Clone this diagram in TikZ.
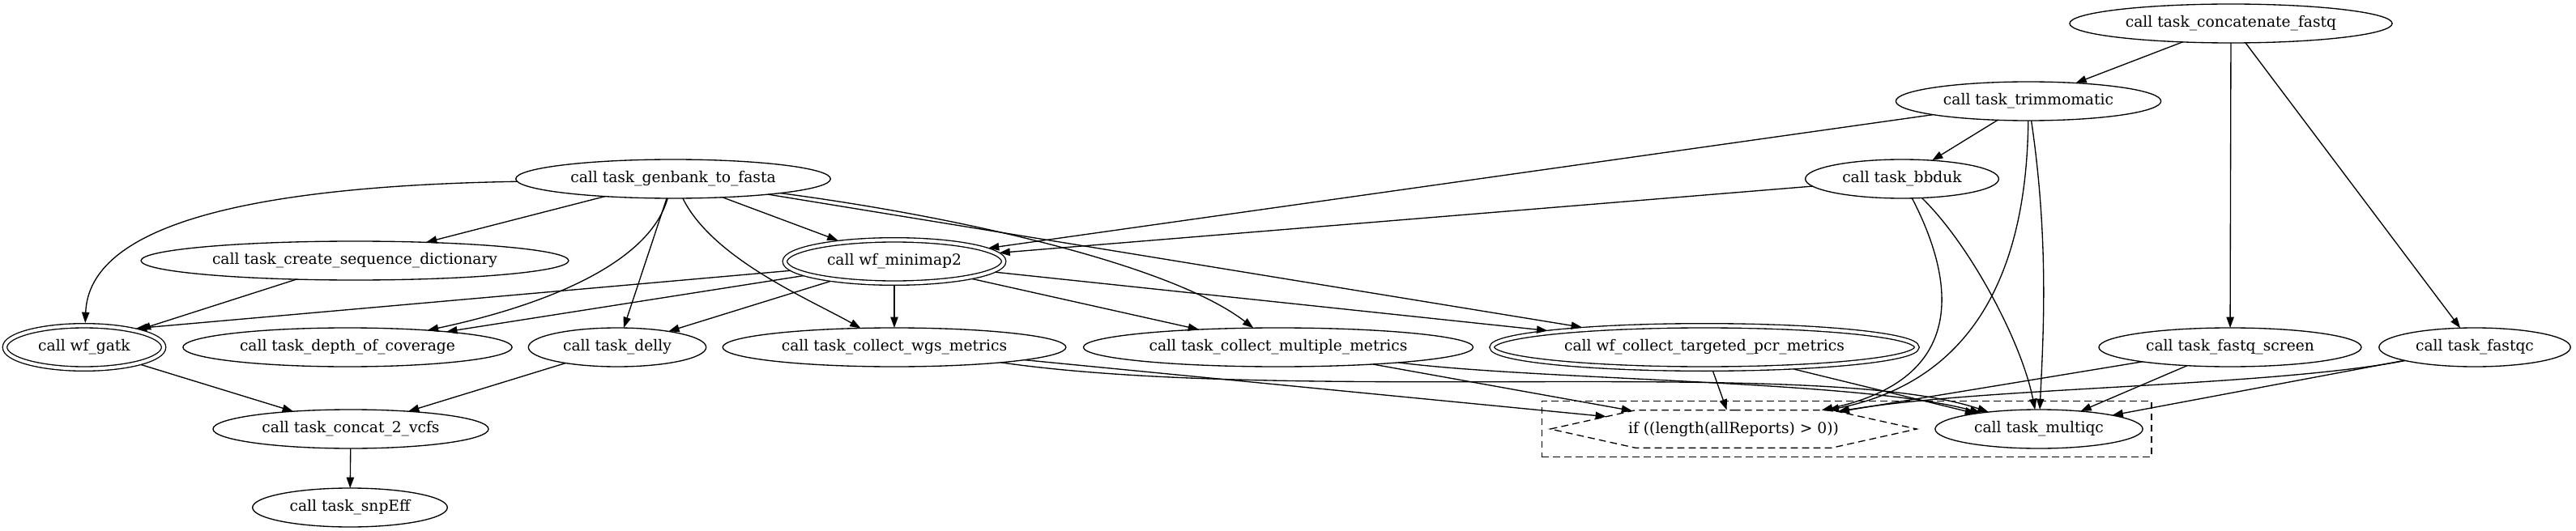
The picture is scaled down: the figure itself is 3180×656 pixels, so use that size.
\documentclass[tikz,border=0pt]{standalone}
\usepackage{fontspec}
\setmainfont{DejaVu Serif}
\usepackage{tikz}
\usetikzlibrary{arrows.meta,shapes.geometric,shapes.symbols,fit,positioning}
\tikzset{
    task/.style={
    ellipse,draw=black,line width=1pt,inner xsep=8pt,inner ysep=2pt,
    minimum height=36pt,outer sep=0pt,font=\fontsize{14pt}{17pt}\selectfont
    },
    subwf/.style={
    task,double,double distance=3pt,inner xsep=9.4pt,minimum height=40pt,outer sep=2.5pt
    },
    condition/.style={
    signal,signal to=east and west,signal pointer angle=25,draw=black,
    line width=1pt,dash pattern=on 6.5pt off 4pt,inner xsep=-6.75pt,inner ysep=2pt,
    minimum height=35pt,outer sep=0pt,font=\fontsize{14pt}{17pt}\selectfont
    },
    cluster/.style={
    rectangle,draw=black,line width=1pt,dash pattern=on 6.5pt off 4pt,inner sep=8pt
    },
    flow/.style={
    -{Triangle[length=10pt,width=7pt]},line width=1pt
    },
}

\begin{document}
\begin{tikzpicture}[x=0.75pt, y=-0.75pt]
  \useasboundingbox (0,0) rectangle (3180,656);
  \node[task] (concatfastq) at (2754,29) {call task\_concatenate\_fastq};
  \node[task] (trimmomatic) at (2504,125) {call task\_trimmomatic};
  \node[task] (genbank) at (831,221) {call task\_genbank\_to\_fasta};
  \node[task] (bbduk) at (2348,221) {call task\_bbduk};
  \node[task] (seqdict) at (438,322) {call task\_create\_sequence\_dictionary};
  \node[subwf] (minimap) at (1104,323) {call wf\_minimap2};
  \node[subwf] (gatk) at (104,429) {call wf\_gatk};
  \node[task] (depth) at (429,429) {call task\_depth\_of\_coverage};
  \node[task] (delly) at (762,429) {call task\_delly};
  \node[task] (wgsmetrics) at (1104,429) {call task\_collect\_wgs\_metrics};
  \node[task] (multimetrics) at (1578,429) {call task\_collect\_multiple\_metrics};
  \node[subwf] (pcrmetrics) at (2104,429) {call wf\_collect\_targeted\_pcr\_metrics};
  \node[task] (fastqscreen) at (2753,429) {call task\_fastq\_screen};
  \node[task] (fastqc) at (3055,429) {call task\_fastqc};
  \node[task] (concatvcfs) at (433,530) {call task\_concat\_2\_vcfs};
  \node[condition] (ifreports) at (2140,530) {if ((length(allReports) > 0))};
  \node[task] (multiqc) at (2517,530) {call task\_multiqc};
  \node[task] (snpeff) at (432,627) {call task\_snpEff};
  % conditional block
  \node[cluster, fit=(ifreports.west)(multiqc.north)(multiqc.south)(multiqc.east)] (reports) {};

  \path[flow]
    (concatfastq)  edge (trimmomatic)
                   edge (fastqscreen)
                   edge (fastqc)
    (trimmomatic)  edge (bbduk)
                   edge (minimap)
    (bbduk)        edge (minimap)
    (genbank)      edge (seqdict)
                   edge (delly)
                   edge (minimap)
                   edge (pcrmetrics)
    (seqdict)      edge (gatk)
    (minimap)      edge (gatk.20)
                   edge (depth)
                   edge (delly)
                   edge (wgsmetrics)
                   edge (multimetrics)
                   edge (pcrmetrics)
    (gatk)         edge (concatvcfs)
    (delly)        edge (concatvcfs)
    (concatvcfs)   edge (snpeff)
    (wgsmetrics)   edge (ifreports)
    (multimetrics) edge (ifreports)
    (pcrmetrics)   edge (ifreports)
                   edge (multiqc)
    (fastqscreen)  edge (ifreports)
                   edge (multiqc)
    (fastqc)       edge (multiqc);

  % bent connectors
  \draw[flow] (trimmomatic) .. controls (2502,330) and (2440,470) .. (ifreports);
  \draw[flow] (trimmomatic) .. controls (2530,300) and (2522,420) .. (multiqc);
  \draw[flow] (bbduk) .. controls (2420,360) and (2420,470) .. (ifreports);
  \draw[flow] (bbduk) .. controls (2430,300) and (2495,420) .. (multiqc);
  \draw[flow] (genbank) .. controls (300,230) and (110,280) .. (gatk);
  \draw[flow] (genbank) .. controls (800,330) and (660,380) .. (depth);
  \draw[flow] (genbank) .. controls (880,320) and (1000,370) .. (wgsmetrics);
  \draw[flow] (genbank) .. controls (1200,270) and (1450,330) .. (multimetrics);
  \draw[flow] (wgsmetrics) .. controls (1600,500) and (2250,440) .. (multiqc);
  \draw[flow] (multimetrics) .. controls (1900,470) and (2300,470) .. (multiqc);
  \draw[flow] (fastqc) .. controls (2800,478) and (2450,478) .. (ifreports);
\end{tikzpicture}
\end{document}
